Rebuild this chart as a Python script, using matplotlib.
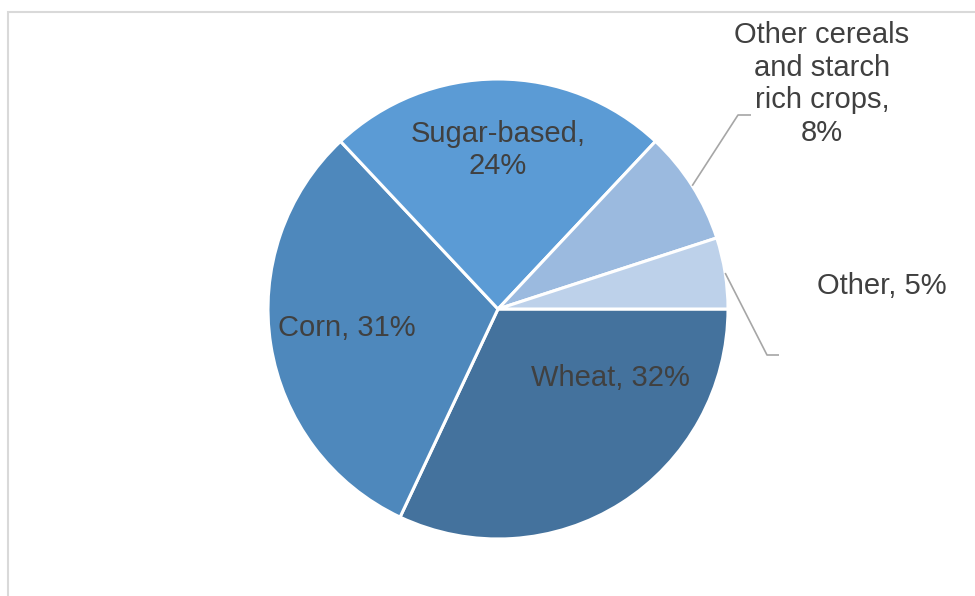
import numpy as np
import matplotlib
matplotlib.use('Agg')
import matplotlib.pyplot as plt
from matplotlib.patches import Rectangle

# data
labels = ['Wheat', 'Corn', 'Sugar-based', 'Other cereals and starch rich crops', 'Other']
shares = [32, 31, 24, 8, 5]
colors = ['#44729d', '#4e88bc', '#5b9bd5', '#9bbadf', '#bdd1ea']

plt.rcParams['font.family'] = ['Liberation Sans', 'DejaVu Sans']

W, H = 975, 596
fig = plt.figure(figsize=(W / 100, H / 100), dpi=100)
ax = fig.add_axes([0, 0, 1, 1])

# chart frame (top/left edges visible, rest runs off the image)
fig.patches.append(Rectangle((8 / W, -0.1), 1.2, (H - 12) / H + 0.1,
                             transform=fig.transFigure, fill=False,
                             edgecolor='#d9d9d9', linewidth=1.5))

cx, cy, r = 498, H - 309, 230
wedges, _ = ax.pie(shares, colors=colors, startangle=0, counterclock=False,
                   center=(cx, cy), radius=r, frame=True,
                   wedgeprops=dict(edgecolor='white', linewidth=2.2))
ax.set_xlim(0, W)
ax.set_ylim(0, H)
ax.set_aspect('equal')
ax.axis('off')

txt = dict(color='#404040', fontsize=21, ha='center', va='center', linespacing=1.22)

ax.text(498, H - 150, f'{labels[2]},\n{shares[2]}%', **txt)
ax.text(347, H - 328, f'{labels[1]}, {shares[1]}%', **txt)
ax.text(610, H - 378, f'{labels[0]}, {shares[0]}%', **txt)
ax.text(822, H - 84, f'Other cereals\nand starch\nrich crops,\n{shares[3]}%', **txt)
ax.text(882, H - 286, f'{labels[4]}, {shares[4]}%', **txt)


# leader lines from wedge mid-angle on the rim
def leader(w, elbow, end):
    mid = np.deg2rad((w.theta1 + w.theta2) / 2)
    x0, y0 = cx + r * np.cos(mid), cy + r * np.sin(mid)
    ax.plot([x0, elbow[0], end[0]], [y0, elbow[1], end[1]],
            color='#a6a6a6', linewidth=1.2, solid_capstyle='butt')


leader(wedges[3], (738, H - 115), (751, H - 115))
leader(wedges[4], (767, H - 355), (779, H - 355))

fig.savefig('out.png', dpi=100)
